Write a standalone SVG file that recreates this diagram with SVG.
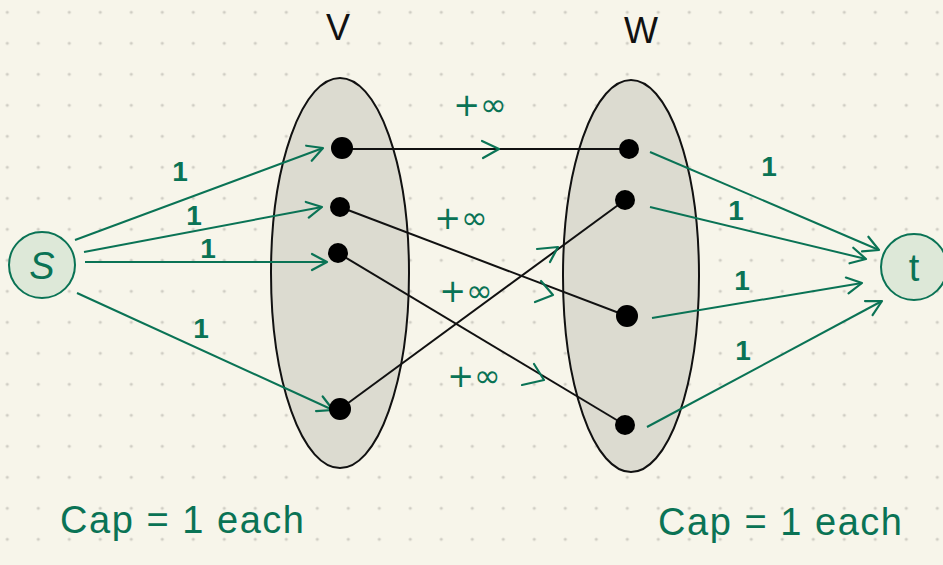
<svg xmlns="http://www.w3.org/2000/svg" width="943" height="565" viewBox="0 0 943 565">
<defs>
<pattern id="dots" x="7.3" y="12.3" width="31" height="31" patternUnits="userSpaceOnUse">
<circle cx="0" cy="0" r="1.6" fill="#cfcdc4"/><circle cx="31" cy="0" r="1.6" fill="#cfcdc4"/><circle cx="0" cy="31" r="1.6" fill="#cfcdc4"/><circle cx="31" cy="31" r="1.6" fill="#cfcdc4"/>
</pattern>
<marker id="ah" viewBox="0 0 20 20" refX="18" refY="10" markerWidth="20" markerHeight="20" markerUnits="userSpaceOnUse" orient="auto">
<path d="M3,2 L18,10 L3,18" fill="none" stroke="#0a7355" stroke-width="2.2" stroke-linecap="round" stroke-linejoin="round"/>
</marker>
</defs>
<style>
.g{stroke:#0a7355;stroke-width:2;fill:none;marker-end:url(#ah)}
.b{stroke:#111;stroke-width:2;fill:none}
.ch{stroke:#0a7355;stroke-width:2.2;fill:none;stroke-linecap:round;stroke-linejoin:round}
.set{fill:#dcdbd0;stroke:#111;stroke-width:2}
.dot{fill:#000}
.lbl{font-family:"Liberation Sans",Arial,sans-serif;fill:#0a7355;font-size:28px;font-weight:bold;text-anchor:middle}
.inf{font-family:"DejaVu Sans",sans-serif;fill:#0a7355;font-size:32px;text-anchor:middle}
.hd{font-family:"Liberation Sans",Arial,sans-serif;fill:#111;font-size:36px;text-anchor:middle}
.big{font-family:"Liberation Sans",Arial,sans-serif;fill:#0a7355;font-size:38px}
.term{fill:#dde8d8;stroke:#0a7355;stroke-width:2}
</style>
<rect width="943" height="565" fill="#f7f5ea"/>
<rect width="943" height="565" fill="url(#dots)"/>
<text class="hd" x="338" y="40">V</text>
<text class="hd" x="641" y="43">W</text>
<g id="setV"><ellipse class="set" cx="340" cy="273" rx="69" ry="195"/></g>
<g id="setW"><ellipse class="set" cx="631" cy="276" rx="68" ry="196"/></g>
<g id="connectors">
<line class="g" x1="75" y1="240" x2="323" y2="148"/>
<line class="g" x1="84" y1="252" x2="322" y2="207"/>
<line class="g" x1="85" y1="262" x2="327" y2="262"/>
<line class="g" x1="77" y1="293" x2="333" y2="410"/>
<line class="b" x1="341" y1="149" x2="628" y2="149"/>
<line class="b" x1="340" y1="207" x2="627" y2="316"/>
<line class="b" x1="338" y1="253" x2="625" y2="425"/>
<line class="b" x1="340" y1="409" x2="625" y2="200"/>
<path class="ch" d="M482,141 L499,149 L483,158"/>
<path class="ch" d="M541,281 L553,295 L535,302"/>
<path class="ch" d="M534,364 L544,380 L522,385"/>
<path class="ch" d="M537,249 L558,247 L550,262"/>
<line class="g" x1="650" y1="152" x2="879" y2="250"/>
<line class="g" x1="650" y1="207" x2="866" y2="259"/>
<line class="g" x1="652" y1="318" x2="862" y2="283"/>
<line class="g" x1="647" y1="427" x2="882" y2="301"/>
<text class="lbl" x="180" y="181">1</text>
<text class="lbl" x="194" y="225">1</text>
<text class="lbl" x="208" y="258">1</text>
<text class="lbl" x="201" y="338">1</text>
<text class="inf" x="480" y="116">+∞</text>
<text class="inf" x="461" y="229">+∞</text>
<text class="inf" x="466" y="302">+∞</text>
<text class="inf" x="474" y="387">+∞</text>
<text class="lbl" x="769" y="176">1</text>
<text class="lbl" x="736" y="220">1</text>
<text class="lbl" x="742" y="290">1</text>
<text class="lbl" x="743" y="360">1</text>
</g>
<g id="s"><circle class="term" cx="42" cy="265" r="33"/><text class="big" x="42" y="279" text-anchor="middle" font-style="italic">S</text></g>
<g id="t"><circle class="term" cx="914" cy="267" r="33"/><text class="big" x="914" y="281" text-anchor="middle">t</text></g>
<g id="v1"><circle class="dot" cx="342" cy="148" r="11"/></g>
<g id="v2"><circle class="dot" cx="340" cy="207" r="10"/></g>
<g id="v3"><circle class="dot" cx="338" cy="253" r="10"/></g>
<g id="v4"><circle class="dot" cx="340" cy="409" r="11"/></g>
<g id="w1"><circle class="dot" cx="629" cy="149" r="10"/></g>
<g id="w2"><circle class="dot" cx="625" cy="200" r="10"/></g>
<g id="w3"><circle class="dot" cx="627" cy="316" r="11"/></g>
<g id="w4"><circle class="dot" cx="625" cy="425" r="10"/></g>
<text class="big" x="60" y="533" textLength="244" lengthAdjust="spacing">Cap = 1  each</text>
<text class="big" x="658" y="535" textLength="244" lengthAdjust="spacing">Cap = 1  each</text>
</svg>
